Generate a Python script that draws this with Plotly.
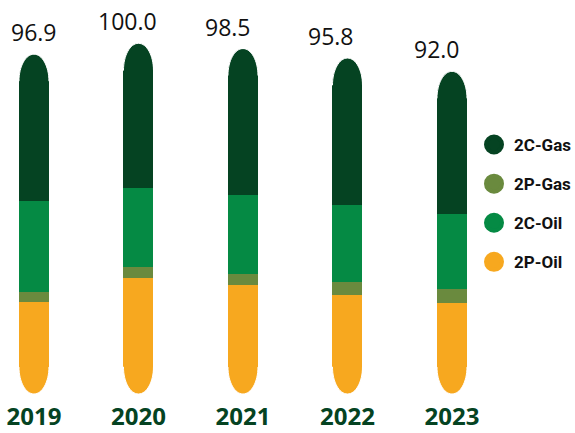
import plotly.graph_objects as go

# Reserves by year (stacked bottom to top)
YEARS = ["2019", "2020", "2021", "2022", "2023"]
P2_OIL = [26.1, 33.2, 31.1, 28.2, 26.0]
P2_GAS = [3.0, 3.1, 3.1, 3.7, 3.9]
C2_OIL = [25.8, 22.4, 22.5, 22.0, 21.4]
C2_GAS = [42.0, 41.3, 41.8, 41.9, 40.7]

COLORS = {
    "2C-Gas": "#054322",
    "2P-Gas": "#6a8a3e",
    "2C-Oil": "#058a44",
    "2P-Oil": "#f7a81f",
}

# layout constants
FIG_W, FIG_H = 575, 433
PLOT_H = 394
X_LO, X_HI = -0.325, 5.177
Y_LO, Y_HI = 0, 112.35
BAR_W = 0.287
CAP_PX = 27                      # height of rounded cap in pixels
LABEL_XSHIFT = [0, -11, -15, -16, -15]

x = list(range(len(YEARS)))
series = [("2P-Oil", P2_OIL), ("2P-Gas", P2_GAS), ("2C-Oil", C2_OIL), ("2C-Gas", C2_GAS)]

fig = go.Figure()
for name, vals in series:
    fig.add_trace(go.Bar(
        x=x, y=vals, name=name, width=BAR_W,
        marker=dict(color=COLORS[name], line=dict(width=0)),
        showlegend=False, hoverinfo="skip",
    ))

# legend entries with round markers
for name in ["2C-Gas", "2P-Gas", "2C-Oil", "2P-Oil"]:
    fig.add_trace(go.Scatter(
        x=[None], y=[None], mode="markers", name=name, legendgroup=name,
        marker=dict(size=16, color=COLORS[name], line=dict(width=4, color=COLORS[name])),
    ))

totals = [round(a + b + c + d, 1) for a, b, c, d in zip(P2_OIL, P2_GAS, C2_OIL, C2_GAS)]

# rounded ends: white masks outside an elliptical cap at top and bottom of each bar
px_x = (X_HI - X_LO) / FIG_W
px_y = (Y_HI - Y_LO) / PLOT_H
a = BAR_W / 2
b = CAP_PX * px_y
k = 0.5523
ex = 1.5 * px_x
ey = 1.5 * px_y
shapes = []
for xi, top in zip(x, totals):
    l, r = xi - a, xi + a
    yc = top - b
    top_path = (
        f"M {l - ex},{yc} L {l},{yc} "
        f"C {l},{yc + k * b} {xi - k * a},{top} {xi},{top} "
        f"C {xi + k * a},{top} {r},{yc + k * b} {r},{yc} "
        f"L {r + ex},{yc} L {r + ex},{top + ey} L {l - ex},{top + ey} Z"
    )
    yc2 = b
    bot_path = (
        f"M {l - ex},{yc2} L {l},{yc2} "
        f"C {l},{yc2 - k * b} {xi - k * a},0 {xi},0 "
        f"C {xi + k * a},0 {r},{yc2 - k * b} {r},{yc2} "
        f"L {r + ex},{yc2} L {r + ex},{-ey} L {l - ex},{-ey} Z"
    )
    for p in (top_path, bot_path):
        shapes.append(dict(type="path", path=p, xref="x", yref="y",
                           fillcolor="white", line=dict(width=1, color="white"),
                           layer="above"))

annotations = []
for xi, t, dx in zip(x, totals, LABEL_XSHIFT):
    annotations.append(dict(
        x=xi, y=t, xref="x", yref="y", text=f"{t:.1f}", showarrow=False,
        yanchor="bottom", xanchor="center", yshift=5, xshift=dx, borderpad=0,
        font=dict(family="Open Sans", size=23, color="#111111"),
    ))

fig.update_layout(
    width=FIG_W, height=FIG_H,
    margin=dict(l=0, r=0, t=0, b=FIG_H - PLOT_H, autoexpand=False),
    paper_bgcolor="white", plot_bgcolor="white",
    barmode="stack",
    shapes=shapes,
    annotations=annotations,
    xaxis=dict(range=[X_LO, X_HI], tickvals=x, ticktext=YEARS,
               showgrid=False, zeroline=False, showline=False, ticks="",
               tickfont=dict(family="Open Sans", size=24, weight="bold", color="#054322"),
               ticklabelstandoff=6, fixedrange=True),
    yaxis=dict(range=[Y_LO, Y_HI], visible=False, fixedrange=True),
    legend=dict(x=474 / FIG_W, y=1 - 127 / PLOT_H, xanchor="left", yanchor="top",
                traceorder="grouped", tracegroupgap=14,
                font=dict(family="Roboto", size=17, weight="bold", color="#111111"),
                itemsizing="trace", itemwidth=30, bgcolor="rgba(0,0,0,0)"),
)

fig.write_html("out.html")
